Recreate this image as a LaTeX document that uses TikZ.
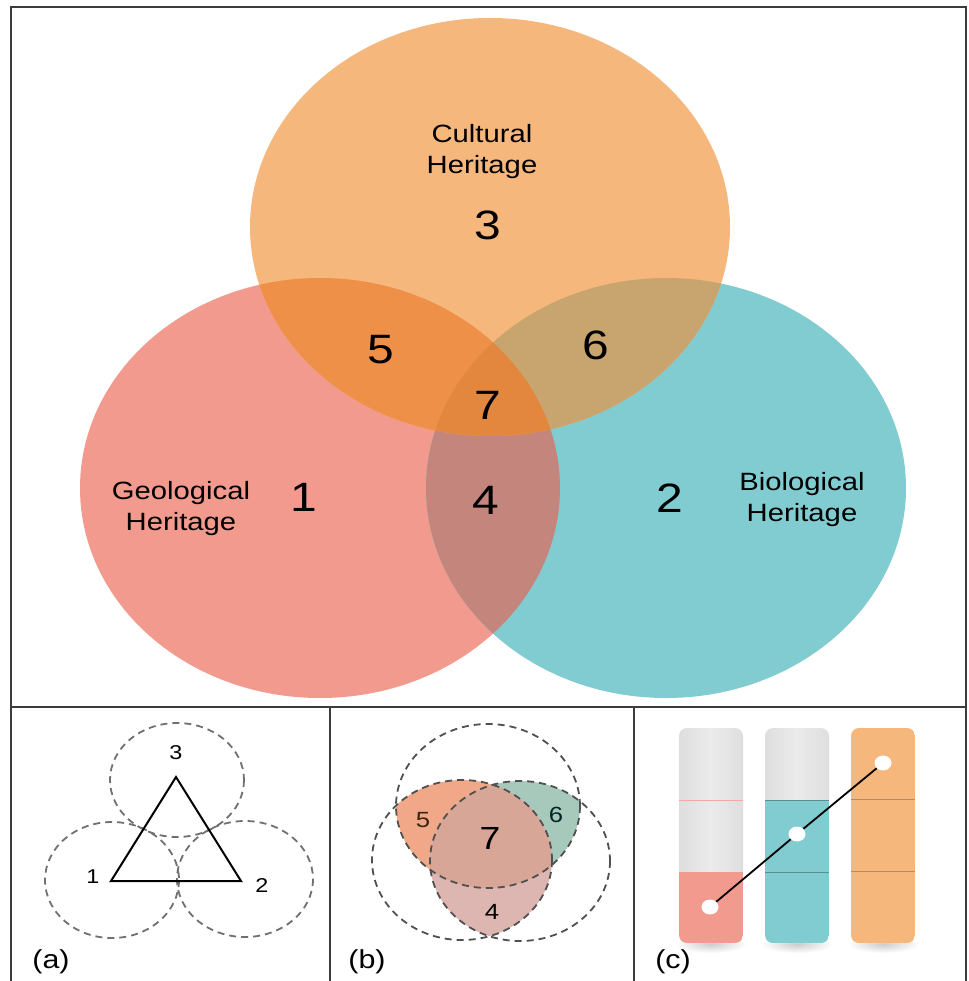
\documentclass[tikz,border=0pt]{standalone}
\usepackage{fontspec}
\setmainfont[FakeStretch=1.17]{Liberation Sans}
\usetikzlibrary{shapes.geometric}
\definecolor{geo}{HTML}{F29A8E}
\definecolor{bio}{HTML}{80CCD1}
\definecolor{cul}{HTML}{F5B77C}
\definecolor{rfive}{HTML}{EE9048}
\definecolor{rsix}{HTML}{C8A56E}
\definecolor{rseven}{HTML}{E3873E}
\definecolor{rfour}{HTML}{C4857D}
\definecolor{bfive}{HTML}{F0A889}
\definecolor{bsix}{HTML}{A6C9BB}
\definecolor{bseven}{HTML}{D8A697}
\definecolor{bfour}{HTML}{DEB6B1}
\definecolor{framec}{HTML}{3C3C3C}
\definecolor{dasha}{HTML}{707070}
\definecolor{dashb}{HTML}{505050}
\definecolor{barg}{HTML}{EBEBEB}
\definecolor{bargd}{HTML}{DEDEDE}
\begin{document}
\begin{tikzpicture}[x=1pt,y=-1pt,
  lbl/.style={font=\fontsize{25}{31}\selectfont, align=center, inner sep=0pt},
  num/.style={font=\fontsize{41}{41}\selectfont, inner sep=0pt},
  smallnum/.style={font=\fontsize{20}{20}\selectfont, inner sep=0pt},
  midnum/.style={font=\fontsize{22}{22}\selectfont, inner sep=0pt},
  tag/.style={font=\fontsize{26}{26}\selectfont, inner sep=0pt},
  dashline/.style={line width=1.8pt, dash pattern=on 7pt off 5pt},
  framel/.style={draw=framec, line width=2.2pt},
  dot/.style={ellipse, fill=white, minimum width=17pt, minimum height=15pt, inner sep=0pt},
  sepline/.style={line width=0.8pt}]
\useasboundingbox (0,0) rectangle (968,981);
\fill[white] (0,0) rectangle (968,981);

% ---------- top Venn ----------
\def\eRed{(320,488) ellipse [x radius=240, y radius=210]}
\def\eBio{(666,488) ellipse [x radius=240, y radius=210]}
\def\eCul{(490,227) ellipse [x radius=240, y radius=209]}
\fill[geo] \eRed;
\fill[bio] \eBio;
\fill[cul] \eCul;
\begin{scope}\clip \eRed; \fill[rfour] \eBio; \end{scope}
\begin{scope}\clip \eRed; \fill[rfive] \eCul; \end{scope}
\begin{scope}\clip \eBio; \fill[rsix] \eCul; \end{scope}
\begin{scope}\clip \eRed; \clip \eBio; \fill[rseven] \eCul; \end{scope}

\node[lbl] (cult) at (482,152) {Cultural\\Heritage};
\node[lbl] (geol) at (181,509) {Geological\\Heritage};
\node[lbl] (biol) at (802,500) {Biological\\Heritage};
\node[num] (n3) at (488,225) {3};
\node[num] (n5) at (381,350) {5};
\node[num] (n6) at (596,345) {6};
\node[num] (n7) at (488,405) {7};
\node[num] (n4) at (486,500) {4};
\node[num] (n1) at (304,497) {1};
\node[num] (n2) at (670,498) {2};

% ---------- panel (a) ----------
\draw[dashline, draw=dasha] (177,780) ellipse [x radius=67, y radius=57];
\draw[dashline, draw=dasha] (112,880) ellipse [x radius=67, y radius=58];
\draw[dashline, draw=dasha] (245,879) ellipse [x radius=68, y radius=58];
\coordinate (ta) at (176,777);
\coordinate (tb) at (111,881);
\coordinate (tc) at (241,881);
\draw[line width=2pt, line join=miter] (tb) -- (tc) -- (ta) -- cycle;
\node[smallnum] (a3) at (176,753) {3};
\node[smallnum] (a1) at (93,877) {1};
\node[smallnum] (a2) at (262,886) {2};
\node[tag] (taga) at (51,962) {(a)};

% ---------- panel (b) ----------
\def\bT{(488,806) ellipse [x radius=92, y radius=82]}
\def\bL{(462,860) ellipse [x radius=90, y radius=80]}
\def\bR{(520,861) ellipse [x radius=90, y radius=80]}
\begin{scope}\clip \bT; \fill[bfive] \bL; \end{scope}
\begin{scope}\clip \bT; \fill[bsix] \bR; \end{scope}
\begin{scope}\clip \bL; \fill[bfour] \bR; \end{scope}
\begin{scope}\clip \bT; \clip \bL; \fill[bseven] \bR; \end{scope}
\draw[dashline, draw=dashb] \bT;
\draw[dashline, draw=dashb] \bL;
\draw[dashline, draw=dashb] \bR;
\node[midnum, text=black!70!brown] (b5) at (423,820) {5};
\node[midnum, text=black!70!teal] (b6) at (556,815) {6};
\node[font=\fontsize{32}{32}\selectfont, inner sep=0pt] (b7) at (490,838) {7};
\node[midnum] (b4) at (492,912) {4};
\node[tag] (tagb) at (367,962) {(b)};

% ---------- panel (c) ----------
\foreach \cx in {711,797,883}{
  \shade[inner color=black!20, outer color=white] (\cx,944) ellipse [x radius=36, y radius=9];
}
% bar 1
\begin{scope}
  \clip[rounded corners=8pt] (679,728) rectangle (743,943);
  \shade[left color=bargd, right color=bargd, middle color=barg] (679,728) rectangle (743,872);
  \fill[geo] (679,872) rectangle (743,943);
  \draw[sepline, draw=geo!85] (679,800) -- (743,800);
\end{scope}
% bar 2
\begin{scope}
  \clip[rounded corners=8pt] (765,728) rectangle (829,943);
  \shade[left color=bargd, right color=bargd, middle color=barg] (765,728) rectangle (829,800);
  \fill[bio] (765,800) rectangle (829,943);
  \draw[sepline, draw=bio!70!black] (765,800) -- (829,800);
  \draw[sepline, draw=bio!70!black] (765,872) -- (829,872);
\end{scope}
% bar 3
\begin{scope}
  \clip[rounded corners=8pt] (851,728) rectangle (915,943);
  \fill[cul] (851,728) rectangle (915,943);
  \draw[sepline, draw=cul!75!black] (851,799) -- (915,799);
  \draw[sepline, draw=cul!75!black] (851,871) -- (915,871);
\end{scope}
\node[dot] (d1) at (710,907) {};
\node[dot] (d2) at (797,834) {};
\node[dot] (d3) at (883,763) {};
\draw[line width=1.8pt] (d1) -- (d2);
\draw[line width=1.8pt] (d2) -- (d3);
\node[tag] (tagc) at (673,962) {(c)};

% ---------- frame ----------
\draw[framel] (11,981) -- (11,7) -- (966,7) -- (966,981);
\draw[framel] (11,707) -- (966,707);
\draw[framel] (330,707) -- (330,981);
\draw[framel] (634,707) -- (634,981);
\end{tikzpicture}
\end{document}
